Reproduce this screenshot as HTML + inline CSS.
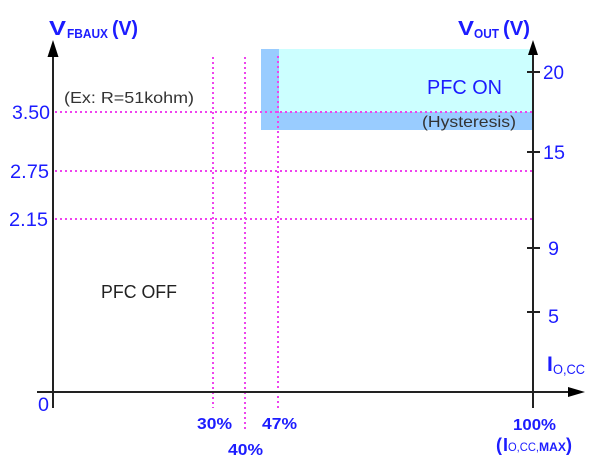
<!DOCTYPE html>
<html><head><meta charset="utf-8"><style>
html,body{margin:0;padding:0;background:#fff;}
svg{display:block;}
text{font-family:"Liberation Sans",Arial,sans-serif;}
</style></head><body>
<svg width="606" height="460" viewBox="0 0 606 460" xmlns="http://www.w3.org/2000/svg">
<rect width="606" height="460" fill="#fff"/>
<!-- regions -->
<rect x="261" y="49" width="272" height="63" fill="#ccffff"/>
<rect x="261" y="112" width="272" height="18" fill="#99ccff"/>
<rect x="261" y="49" width="18" height="63" fill="#99ccff"/>
<!-- dotted grid -->
<g stroke="#ee44ee" stroke-width="2" stroke-dasharray="2 3" fill="none">
<line x1="55" y1="112" x2="532" y2="112"/>
<line x1="55" y1="171" x2="532" y2="171"/>
<line x1="55" y1="219" x2="532" y2="219"/>
<line x1="213" y1="57" x2="213" y2="408"/>
<line x1="245" y1="57" x2="245" y2="430"/>
<line x1="278" y1="56" x2="278" y2="408"/>
</g>
<!-- axes -->
<g stroke="#222" stroke-width="2" fill="none">
<line x1="53" y1="55" x2="53" y2="408"/>
<line x1="533" y1="54" x2="533" y2="408"/>
<line x1="37" y1="392" x2="570" y2="392"/>
<line x1="527" y1="72" x2="540" y2="72"/>
<line x1="527" y1="152" x2="540" y2="152"/>
<line x1="527" y1="248" x2="540" y2="248"/>
<line x1="527" y1="312" x2="540" y2="312"/>
</g>
<polygon points="53,40 47.5,57 58.5,57" fill="#000"/>
<polygon points="533,40 528,55 538,55" fill="#000"/>
<polygon points="585,392 568,387 568,397" fill="#000"/>
<!-- axis titles -->
<g fill="#1c1cff" font-weight="bold">
<text x="49" y="35" font-size="20" textLength="17" lengthAdjust="spacingAndGlyphs">V</text>
<text x="67" y="38" font-size="13" textLength="41" lengthAdjust="spacingAndGlyphs">FBAUX</text>
<text x="112" y="35" font-size="20" textLength="26" lengthAdjust="spacingAndGlyphs">(V)</text>
<text x="458" y="35" font-size="20" textLength="16" lengthAdjust="spacingAndGlyphs">V</text>
<text x="474" y="38" font-size="13" textLength="25" lengthAdjust="spacingAndGlyphs">OUT</text>
<text x="503" y="35" font-size="20" textLength="27" lengthAdjust="spacingAndGlyphs">(V)</text>
</g>
<!-- tick labels -->
<g fill="#1c1cff" font-size="19">
<text x="12" y="119" textLength="38" lengthAdjust="spacingAndGlyphs">3.50</text>
<text x="10" y="178" textLength="39" lengthAdjust="spacingAndGlyphs">2.75</text>
<text x="9" y="226" textLength="39" lengthAdjust="spacingAndGlyphs">2.15</text>
<text x="38" y="411" textLength="11" lengthAdjust="spacingAndGlyphs">0</text>
<text x="543" y="79" textLength="21" lengthAdjust="spacingAndGlyphs">20</text>
<text x="543" y="159" textLength="22" lengthAdjust="spacingAndGlyphs">15</text>
<text x="548" y="255" textLength="11" lengthAdjust="spacingAndGlyphs">9</text>
<text x="548" y="323" textLength="11" lengthAdjust="spacingAndGlyphs">5</text>
</g>
<!-- bottom labels -->
<g fill="#1c1cff" font-weight="bold" font-size="16">
<text x="197" y="429" textLength="35" lengthAdjust="spacingAndGlyphs">30%</text>
<text x="228" y="455" textLength="35" lengthAdjust="spacingAndGlyphs">40%</text>
<text x="262" y="429" textLength="35" lengthAdjust="spacingAndGlyphs">47%</text>
<text x="513" y="430" textLength="43" lengthAdjust="spacingAndGlyphs">100%</text>
<text x="496" y="451" font-size="18">(</text>
<text x="503" y="451" font-size="18">I</text>
<text x="508" y="451" font-size="12" font-weight="normal" textLength="31" lengthAdjust="spacingAndGlyphs">O,CC,</text>
<text x="539" y="451" font-size="12" textLength="27" lengthAdjust="spacingAndGlyphs">MAX</text>
<text x="566" y="451" font-size="18">)</text>
</g>
<text x="547" y="371" fill="#1c1cff" font-size="21" font-weight="bold">I</text>
<text x="553" y="374" fill="#1c1cff" font-size="14" textLength="32" lengthAdjust="spacingAndGlyphs">O,CC</text>
<!-- annotations -->
<text x="64" y="103" fill="#333" font-size="16" textLength="130" lengthAdjust="spacingAndGlyphs">(Ex: R=51kohm)</text>
<text x="427" y="94" fill="#1c1cff" font-size="20" textLength="75" lengthAdjust="spacingAndGlyphs">PFC ON</text>
<text x="422" y="127" fill="#333" font-size="16" textLength="94" lengthAdjust="spacingAndGlyphs">(Hysteresis)</text>
<text x="101" y="298" fill="#222" font-size="18" textLength="76" lengthAdjust="spacingAndGlyphs">PFC OFF</text>
</svg>
</body></html>
